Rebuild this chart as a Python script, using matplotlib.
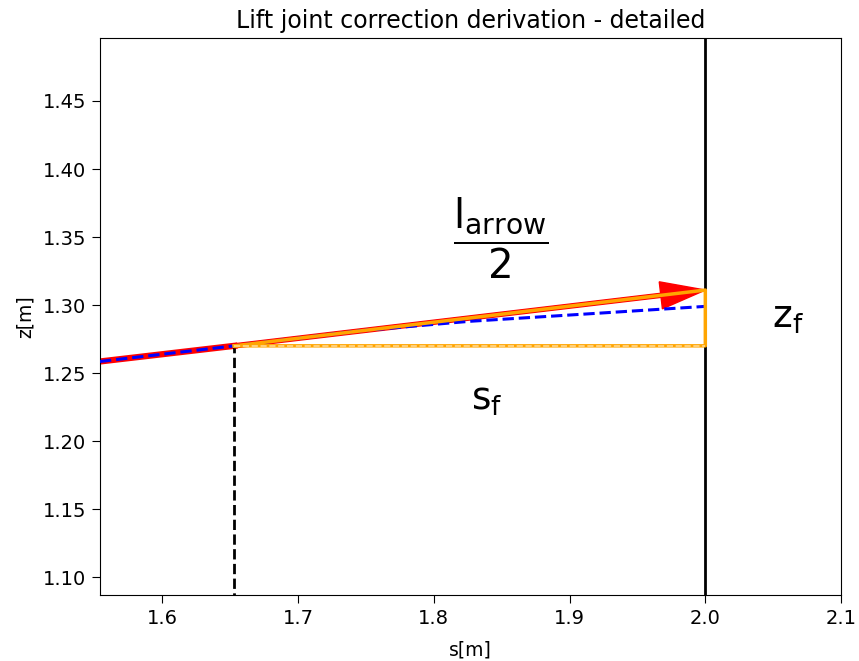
import numpy as np
import matplotlib
matplotlib.use("Agg")
import matplotlib.pyplot as plt

plt.rcParams["font.family"] = ["DejaVu Sans"]
plt.rcParams["mathtext.fontset"] = "dejavusans"
plt.rcParams["mathtext.default"] = "regular"

# path (blue dashed)
s_path = [1.554, 1.653, 1.747, 1.826, 1.912, 2.0]
z_path = [1.2585, 1.270, 1.2812, 1.2880, 1.2934, 1.2990]

# tangent segment before the start point
s_tan = [1.554, 1.653]
z_tan = [1.2585, 1.270]

s0, z0 = 1.653, 1.270      # start point
s_f = 2.0                  # final s
z_end = 1.311              # arrow tip height

xticks = [1.6, 1.7, 1.8, 1.9, 2.0, 2.1]
yticks = [1.10, 1.15, 1.20, 1.25, 1.30, 1.35, 1.40, 1.45]

fig = plt.figure(figsize=(8.59, 6.61), dpi=100)
ax = fig.add_axes([0.1164, 0.0998, 0.8627, 0.8427])

ax.plot(s_tan, z_tan, color="red", lw=4.5)
ax.arrow(s0, z0, s_f - s0, z_end - z0, length_includes_head=True,
         width=0.003, head_width=0.02, head_length=0.033,
         color="red", zorder=3)
ax.plot(s_path, z_path, color="blue", ls="--", lw=2.2, zorder=4)

# triangle
ax.plot([s0, s_f, s_f, s0], [z0, z0, z_end, z0], color="orange", lw=2.5, zorder=5)
ax.plot([s0, s_f], [z0, z0], color="#ffd890", ls="--", lw=1.2, zorder=6)

ax.plot([s0, s0], [1.0, z0], color="black", ls="--", lw=2)
ax.axvline(s_f, color="black", lw=2)

ax.text(1.849, 1.3496, r"$\dfrac{l_{arrow}}{2}$", fontsize=29, ha="center", va="center")
ax.text(1.8387, 1.2301, r"$s_f$", fontsize=27, ha="center", va="center")
ax.text(2.0608, 1.2904, r"$z_f$", fontsize=27, ha="center", va="center")

ax.set_xlim(1.554, 2.1)
ax.set_ylim(1.0868, 1.4963)
ax.set_xticks(xticks)
ax.set_yticks(yticks)
ax.set_yticklabels([f"{v:.2f}" for v in yticks])
ax.tick_params(labelsize=14, length=6, pad=4)
ax.set_xlabel("s[m]", fontsize=13.5, labelpad=9)
ax.set_ylabel("z[m]", fontsize=13.5, labelpad=6)
ax.set_title("Lift joint correction derivation - detailed", fontsize=17, pad=7)

plt.savefig("out.png")
